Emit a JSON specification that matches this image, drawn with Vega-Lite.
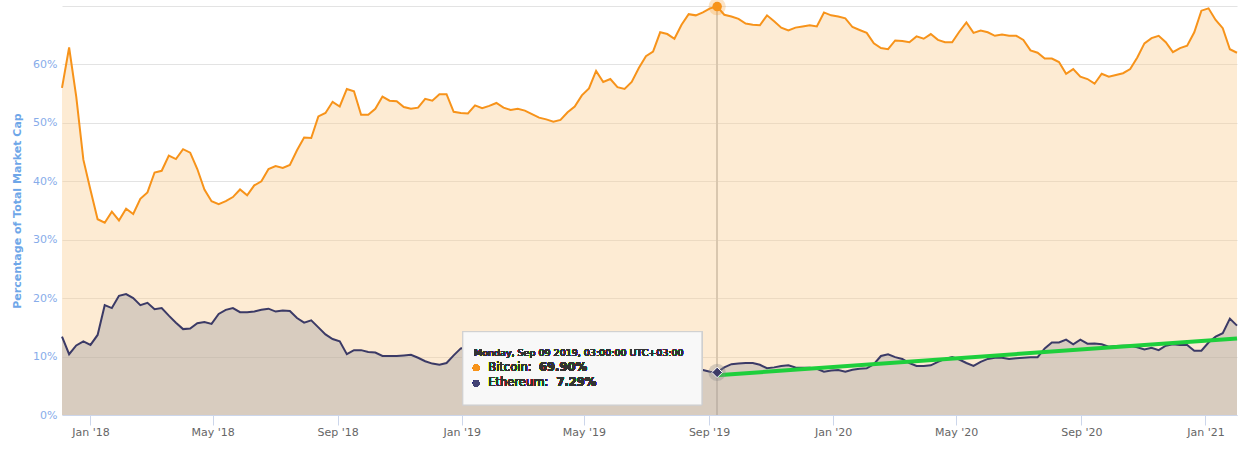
{
  "$schema": "https://vega.github.io/schema/vega-lite/v6.json",
  "width": 1175,
  "height": 409,
  "autosize": "none",
  "padding": {"left": 62, "top": 6, "right": 5, "bottom": 39},
  "background": "white",
  "config": {"font": "DejaVu Sans", "view": {"stroke": null}},
  "datasets": {
    "weekly": [
      {"date": "2017-12-04", "Bitcoin": 56.0, "Ethereum": 13.4},
      {"date": "2017-12-11", "Bitcoin": 62.9, "Ethereum": 10.4},
      {"date": "2017-12-18", "Bitcoin": 54.5, "Ethereum": 11.9},
      {"date": "2017-12-25", "Bitcoin": 43.7, "Ethereum": 12.6},
      {"date": "2018-01-01", "Bitcoin": 38.5, "Ethereum": 12.0},
      {"date": "2018-01-08", "Bitcoin": 33.5, "Ethereum": 13.7},
      {"date": "2018-01-15", "Bitcoin": 32.9, "Ethereum": 18.8},
      {"date": "2018-01-22", "Bitcoin": 34.8, "Ethereum": 18.3},
      {"date": "2018-01-29", "Bitcoin": 33.3, "Ethereum": 20.4},
      {"date": "2018-02-05", "Bitcoin": 35.3, "Ethereum": 20.7},
      {"date": "2018-02-12", "Bitcoin": 34.4, "Ethereum": 20.0},
      {"date": "2018-02-19", "Bitcoin": 37.0, "Ethereum": 18.8},
      {"date": "2018-02-26", "Bitcoin": 38.1, "Ethereum": 19.2},
      {"date": "2018-03-05", "Bitcoin": 41.5, "Ethereum": 18.1},
      {"date": "2018-03-12", "Bitcoin": 41.8, "Ethereum": 18.3},
      {"date": "2018-03-19", "Bitcoin": 44.4, "Ethereum": 17.0},
      {"date": "2018-03-26", "Bitcoin": 43.8, "Ethereum": 15.8},
      {"date": "2018-04-02", "Bitcoin": 45.5, "Ethereum": 14.7},
      {"date": "2018-04-09", "Bitcoin": 44.9, "Ethereum": 14.8},
      {"date": "2018-04-16", "Bitcoin": 42.1, "Ethereum": 15.7},
      {"date": "2018-04-23", "Bitcoin": 38.6, "Ethereum": 15.9},
      {"date": "2018-04-30", "Bitcoin": 36.6, "Ethereum": 15.6},
      {"date": "2018-05-07", "Bitcoin": 36.1, "Ethereum": 17.3},
      {"date": "2018-05-14", "Bitcoin": 36.6, "Ethereum": 18.0},
      {"date": "2018-05-21", "Bitcoin": 37.3, "Ethereum": 18.3},
      {"date": "2018-05-28", "Bitcoin": 38.6, "Ethereum": 17.6},
      {"date": "2018-06-04", "Bitcoin": 37.6, "Ethereum": 17.6},
      {"date": "2018-06-11", "Bitcoin": 39.3, "Ethereum": 17.7},
      {"date": "2018-06-18", "Bitcoin": 40.0, "Ethereum": 18.0},
      {"date": "2018-06-25", "Bitcoin": 42.1, "Ethereum": 18.2},
      {"date": "2018-07-02", "Bitcoin": 42.6, "Ethereum": 17.7},
      {"date": "2018-07-09", "Bitcoin": 42.3, "Ethereum": 17.9},
      {"date": "2018-07-16", "Bitcoin": 42.8, "Ethereum": 17.8},
      {"date": "2018-07-23", "Bitcoin": 45.3, "Ethereum": 16.6},
      {"date": "2018-07-30", "Bitcoin": 47.5, "Ethereum": 15.8},
      {"date": "2018-08-06", "Bitcoin": 47.4, "Ethereum": 16.2},
      {"date": "2018-08-13", "Bitcoin": 51.1, "Ethereum": 15.0},
      {"date": "2018-08-20", "Bitcoin": 51.7, "Ethereum": 13.8},
      {"date": "2018-08-27", "Bitcoin": 53.6, "Ethereum": 13.0},
      {"date": "2018-09-03", "Bitcoin": 52.8, "Ethereum": 12.6},
      {"date": "2018-09-10", "Bitcoin": 55.8, "Ethereum": 10.4},
      {"date": "2018-09-17", "Bitcoin": 55.4, "Ethereum": 11.1},
      {"date": "2018-09-24", "Bitcoin": 51.4, "Ethereum": 11.1},
      {"date": "2018-10-01", "Bitcoin": 51.4, "Ethereum": 10.8},
      {"date": "2018-10-08", "Bitcoin": 52.4, "Ethereum": 10.7},
      {"date": "2018-10-15", "Bitcoin": 54.5, "Ethereum": 10.1},
      {"date": "2018-10-22", "Bitcoin": 53.8, "Ethereum": 10.1},
      {"date": "2018-10-29", "Bitcoin": 53.7, "Ethereum": 10.1},
      {"date": "2018-11-05", "Bitcoin": 52.7, "Ethereum": 10.2},
      {"date": "2018-11-12", "Bitcoin": 52.4, "Ethereum": 10.3},
      {"date": "2018-11-19", "Bitcoin": 52.6, "Ethereum": 9.8},
      {"date": "2018-11-26", "Bitcoin": 54.1, "Ethereum": 9.2},
      {"date": "2018-12-03", "Bitcoin": 53.8, "Ethereum": 8.8},
      {"date": "2018-12-10", "Bitcoin": 54.9, "Ethereum": 8.6},
      {"date": "2018-12-17", "Bitcoin": 54.9, "Ethereum": 8.9},
      {"date": "2018-12-24", "Bitcoin": 51.9, "Ethereum": 10.2},
      {"date": "2018-12-31", "Bitcoin": 51.7, "Ethereum": 11.4},
      {"date": "2019-01-07", "Bitcoin": 51.6, "Ethereum": 11.6},
      {"date": "2019-01-14", "Bitcoin": 53.0, "Ethereum": 11.0},
      {"date": "2019-01-21", "Bitcoin": 52.5, "Ethereum": 10.7},
      {"date": "2019-01-28", "Bitcoin": 52.9, "Ethereum": 10.9},
      {"date": "2019-02-04", "Bitcoin": 53.4, "Ethereum": 11.2},
      {"date": "2019-02-11", "Bitcoin": 52.6, "Ethereum": 10.8},
      {"date": "2019-02-18", "Bitcoin": 52.2, "Ethereum": 10.5},
      {"date": "2019-02-25", "Bitcoin": 52.4, "Ethereum": 10.6},
      {"date": "2019-03-04", "Bitcoin": 52.1, "Ethereum": 10.3},
      {"date": "2019-03-11", "Bitcoin": 51.5, "Ethereum": 10.4},
      {"date": "2019-03-18", "Bitcoin": 50.9, "Ethereum": 10.2},
      {"date": "2019-03-25", "Bitcoin": 50.6, "Ethereum": 9.8},
      {"date": "2019-04-01", "Bitcoin": 50.2, "Ethereum": 10.0},
      {"date": "2019-04-08", "Bitcoin": 50.5, "Ethereum": 10.5},
      {"date": "2019-04-15", "Bitcoin": 51.8, "Ethereum": 9.8},
      {"date": "2019-04-22", "Bitcoin": 52.8, "Ethereum": 9.4},
      {"date": "2019-04-29", "Bitcoin": 54.7, "Ethereum": 9.6},
      {"date": "2019-05-06", "Bitcoin": 55.9, "Ethereum": 10.2},
      {"date": "2019-05-13", "Bitcoin": 58.9, "Ethereum": 10.3},
      {"date": "2019-05-20", "Bitcoin": 57.0, "Ethereum": 10.0},
      {"date": "2019-05-27", "Bitcoin": 57.5, "Ethereum": 9.9},
      {"date": "2019-06-03", "Bitcoin": 56.1, "Ethereum": 9.4},
      {"date": "2019-06-10", "Bitcoin": 55.8, "Ethereum": 9.1},
      {"date": "2019-06-17", "Bitcoin": 57.0, "Ethereum": 8.9},
      {"date": "2019-06-24", "Bitcoin": 59.4, "Ethereum": 8.6},
      {"date": "2019-07-01", "Bitcoin": 61.4, "Ethereum": 8.2},
      {"date": "2019-07-08", "Bitcoin": 62.2, "Ethereum": 8.3},
      {"date": "2019-07-15", "Bitcoin": 65.5, "Ethereum": 8.4},
      {"date": "2019-07-22", "Bitcoin": 65.2, "Ethereum": 7.9},
      {"date": "2019-07-29", "Bitcoin": 64.4, "Ethereum": 7.6},
      {"date": "2019-08-05", "Bitcoin": 66.8, "Ethereum": 7.8},
      {"date": "2019-08-12", "Bitcoin": 68.6, "Ethereum": 7.9},
      {"date": "2019-08-19", "Bitcoin": 68.4, "Ethereum": 7.8},
      {"date": "2019-08-26", "Bitcoin": 68.9, "Ethereum": 7.7},
      {"date": "2019-09-02", "Bitcoin": 69.6, "Ethereum": 7.4},
      {"date": "2019-09-09", "Bitcoin": 69.9, "Ethereum": 7.29},
      {"date": "2019-09-16", "Bitcoin": 68.5, "Ethereum": 8.15},
      {"date": "2019-09-23", "Bitcoin": 68.2, "Ethereum": 8.7},
      {"date": "2019-09-30", "Bitcoin": 67.8, "Ethereum": 8.8},
      {"date": "2019-10-07", "Bitcoin": 67.0, "Ethereum": 8.9},
      {"date": "2019-10-14", "Bitcoin": 66.8, "Ethereum": 8.9},
      {"date": "2019-10-21", "Bitcoin": 66.7, "Ethereum": 8.6},
      {"date": "2019-10-28", "Bitcoin": 68.4, "Ethereum": 8.0},
      {"date": "2019-11-04", "Bitcoin": 67.4, "Ethereum": 8.15},
      {"date": "2019-11-11", "Bitcoin": 66.3, "Ethereum": 8.4},
      {"date": "2019-11-18", "Bitcoin": 65.8, "Ethereum": 8.5},
      {"date": "2019-11-25", "Bitcoin": 66.3, "Ethereum": 8.15},
      {"date": "2019-12-02", "Bitcoin": 66.5, "Ethereum": 8.1},
      {"date": "2019-12-09", "Bitcoin": 66.7, "Ethereum": 8.1},
      {"date": "2019-12-16", "Bitcoin": 66.5, "Ethereum": 7.9},
      {"date": "2019-12-23", "Bitcoin": 68.9, "Ethereum": 7.4},
      {"date": "2019-12-30", "Bitcoin": 68.4, "Ethereum": 7.6},
      {"date": "2020-01-06", "Bitcoin": 68.2, "Ethereum": 7.7},
      {"date": "2020-01-13", "Bitcoin": 67.9, "Ethereum": 7.4},
      {"date": "2020-01-20", "Bitcoin": 66.4, "Ethereum": 7.75},
      {"date": "2020-01-27", "Bitcoin": 65.9, "Ethereum": 7.9},
      {"date": "2020-02-03", "Bitcoin": 65.4, "Ethereum": 8.0},
      {"date": "2020-02-10", "Bitcoin": 63.6, "Ethereum": 8.7},
      {"date": "2020-02-17", "Bitcoin": 62.8, "Ethereum": 10.1},
      {"date": "2020-02-24", "Bitcoin": 62.6, "Ethereum": 10.4},
      {"date": "2020-03-02", "Bitcoin": 64.1, "Ethereum": 9.9},
      {"date": "2020-03-09", "Bitcoin": 64.0, "Ethereum": 9.6},
      {"date": "2020-03-16", "Bitcoin": 63.8, "Ethereum": 8.9},
      {"date": "2020-03-23", "Bitcoin": 64.8, "Ethereum": 8.4},
      {"date": "2020-03-30", "Bitcoin": 64.4, "Ethereum": 8.4},
      {"date": "2020-04-06", "Bitcoin": 65.2, "Ethereum": 8.5},
      {"date": "2020-04-13", "Bitcoin": 64.2, "Ethereum": 9.1},
      {"date": "2020-04-20", "Bitcoin": 63.8, "Ethereum": 9.6},
      {"date": "2020-04-27", "Bitcoin": 63.8, "Ethereum": 9.9},
      {"date": "2020-05-04", "Bitcoin": 65.6, "Ethereum": 9.5},
      {"date": "2020-05-11", "Bitcoin": 67.2, "Ethereum": 8.9},
      {"date": "2020-05-18", "Bitcoin": 65.4, "Ethereum": 8.4},
      {"date": "2020-05-25", "Bitcoin": 65.8, "Ethereum": 9.1},
      {"date": "2020-06-01", "Bitcoin": 65.5, "Ethereum": 9.6},
      {"date": "2020-06-08", "Bitcoin": 64.9, "Ethereum": 9.8},
      {"date": "2020-06-15", "Bitcoin": 65.1, "Ethereum": 9.8},
      {"date": "2020-06-22", "Bitcoin": 64.9, "Ethereum": 9.6},
      {"date": "2020-06-29", "Bitcoin": 64.9, "Ethereum": 9.7},
      {"date": "2020-07-06", "Bitcoin": 64.2, "Ethereum": 9.8},
      {"date": "2020-07-13", "Bitcoin": 62.4, "Ethereum": 9.9},
      {"date": "2020-07-20", "Bitcoin": 62.0, "Ethereum": 9.9},
      {"date": "2020-07-27", "Bitcoin": 61.0, "Ethereum": 11.4},
      {"date": "2020-08-03", "Bitcoin": 61.0, "Ethereum": 12.4},
      {"date": "2020-08-10", "Bitcoin": 60.4, "Ethereum": 12.4},
      {"date": "2020-08-17", "Bitcoin": 58.4, "Ethereum": 12.9},
      {"date": "2020-08-24", "Bitcoin": 59.2, "Ethereum": 12.1},
      {"date": "2020-08-31", "Bitcoin": 57.9, "Ethereum": 12.9},
      {"date": "2020-09-07", "Bitcoin": 57.5, "Ethereum": 12.2},
      {"date": "2020-09-14", "Bitcoin": 56.7, "Ethereum": 12.25},
      {"date": "2020-09-21", "Bitcoin": 58.4, "Ethereum": 12.1},
      {"date": "2020-09-28", "Bitcoin": 57.9, "Ethereum": 11.7},
      {"date": "2020-10-05", "Bitcoin": 58.2, "Ethereum": 11.8},
      {"date": "2020-10-12", "Bitcoin": 58.5, "Ethereum": 11.85},
      {"date": "2020-10-19", "Bitcoin": 59.2, "Ethereum": 11.85},
      {"date": "2020-10-26", "Bitcoin": 61.2, "Ethereum": 11.6},
      {"date": "2020-11-02", "Bitcoin": 63.6, "Ethereum": 11.2},
      {"date": "2020-11-09", "Bitcoin": 64.5, "Ethereum": 11.5},
      {"date": "2020-11-16", "Bitcoin": 64.9, "Ethereum": 11.1},
      {"date": "2020-11-23", "Bitcoin": 63.8, "Ethereum": 11.85},
      {"date": "2020-11-30", "Bitcoin": 62.1, "Ethereum": 12.1},
      {"date": "2020-12-07", "Bitcoin": 62.8, "Ethereum": 12.0},
      {"date": "2020-12-14", "Bitcoin": 63.2, "Ethereum": 12.0},
      {"date": "2020-12-21", "Bitcoin": 65.5, "Ethereum": 11.0},
      {"date": "2020-12-28", "Bitcoin": 69.2, "Ethereum": 11.0},
      {"date": "2021-01-04", "Bitcoin": 69.6, "Ethereum": 12.4},
      {"date": "2021-01-11", "Bitcoin": 67.6, "Ethereum": 13.4},
      {"date": "2021-01-18", "Bitcoin": 66.2, "Ethereum": 14.0},
      {"date": "2021-01-25", "Bitcoin": 62.6, "Ethereum": 16.5},
      {"date": "2021-02-01", "Bitcoin": 62.0, "Ethereum": 15.3}
    ],
    "trend": [
      {"date": "2019-09-09", "share": 6.8},
      {"date": "2021-02-01", "share": 13.1}
    ],
    "hover": [
      {"date": "2019-09-09", "Bitcoin": 69.9, "Ethereum": 7.29}
    ]
  },
  "data": {"name": "weekly"},
  "layer": [
    {
      "mark": {"type": "rule", "color": "#c4c4c4", "strokeWidth": 1},
      "encoding": {
        "x": {"datum": {"year": 2019, "month": 9, "date": 9, "utc": true}, "type": "temporal"}
      }
    },
    {
      "mark": {"type": "area", "color": "#facd91", "opacity": 0.4},
      "encoding": {
        "x": {
          "field": "date",
          "type": "temporal",
          "scale": {
            "type": "utc",
            "domain": [
              {"year": 2017, "month": 12, "date": 4, "utc": true},
              {"year": 2021, "month": 2, "date": 1, "utc": true}
            ]
          },
          "axis": {
            "title": null,
            "values": [
              {"year": 2018, "month": 1, "date": 1, "utc": true},
              {"year": 2018, "month": 5, "date": 1, "utc": true},
              {"year": 2018, "month": 9, "date": 1, "utc": true},
              {"year": 2019, "month": 1, "date": 1, "utc": true},
              {"year": 2019, "month": 5, "date": 1, "utc": true},
              {"year": 2019, "month": 9, "date": 1, "utc": true},
              {"year": 2020, "month": 1, "date": 1, "utc": true},
              {"year": 2020, "month": 5, "date": 1, "utc": true},
              {"year": 2020, "month": 9, "date": 1, "utc": true},
              {"year": 2021, "month": 1, "date": 1, "utc": true}
            ],
            "format": "%b '%y",
            "grid": false,
            "domainColor": "#ccd6eb",
            "tickColor": "#ccd6eb",
            "tickSize": 10,
            "labelColor": "#666666",
            "labelFontSize": 11,
            "labelPadding": 1
          }
        },
        "y": {
          "field": "Bitcoin",
          "type": "quantitative",
          "scale": {"domain": [0, 70], "nice": false},
          "axis": {
            "title": "Percentage of Total Market Cap",
            "values": [0, 10, 20, 30, 40, 50, 60, 70],
            "labelExpr": "datum.value == 70 ? '' : datum.value + '%'",
            "domain": false,
            "ticks": false,
            "labelPadding": 5,
            "labelColor": "#87acea",
            "labelFontSize": 11,
            "titleColor": "#6ea6e8",
            "titleFontSize": 11,
            "titleFontWeight": "bold",
            "titlePadding": 10,
            "gridColor": "#e3e3e3"
          }
        }
      }
    },
    {
      "mark": {"type": "area", "color": "#a09da3", "opacity": 0.4},
      "encoding": {
        "x": {"field": "date", "type": "temporal"},
        "y": {"field": "Ethereum", "type": "quantitative"}
      }
    },
    {
      "mark": {"type": "line", "color": "#f7931a", "strokeWidth": 2},
      "encoding": {
        "x": {"field": "date", "type": "temporal"},
        "y": {"field": "Bitcoin", "type": "quantitative"}
      }
    },
    {
      "mark": {"type": "line", "color": "#3b3a66", "strokeWidth": 2},
      "encoding": {
        "x": {"field": "date", "type": "temporal"},
        "y": {"field": "Ethereum", "type": "quantitative"}
      }
    },
    {
      "data": {"name": "trend"},
      "mark": {"type": "line", "color": "#1ecf3c", "strokeWidth": 4},
      "encoding": {
        "x": {"field": "date", "type": "temporal"},
        "y": {"field": "share", "type": "quantitative"}
      }
    },
    {
      "data": {"name": "hover"},
      "mark": {"type": "point", "shape": "circle", "filled": true, "size": 300, "color": "#f7931a", "opacity": 0.25},
      "encoding": {
        "x": {"field": "date", "type": "temporal"},
        "y": {"field": "Bitcoin", "type": "quantitative"}
      }
    },
    {
      "data": {"name": "hover"},
      "mark": {"type": "point", "shape": "circle", "filled": true, "size": 90, "color": "#f7931a", "opacity": 1},
      "encoding": {
        "x": {"field": "date", "type": "temporal"},
        "y": {"field": "Bitcoin", "type": "quantitative"}
      }
    },
    {
      "data": {"name": "hover"},
      "mark": {"type": "point", "shape": "circle", "filled": true, "size": 300, "color": "#8a8a8a", "opacity": 0.35},
      "encoding": {
        "x": {"field": "date", "type": "temporal"},
        "y": {"field": "Ethereum", "type": "quantitative"}
      }
    },
    {
      "data": {"name": "hover"},
      "mark": {"type": "point", "shape": "diamond", "filled": true, "size": 110, "color": "#3b3a66", "opacity": 1, "stroke": "#ffffff", "strokeWidth": 1},
      "encoding": {
        "x": {"field": "date", "type": "temporal"},
        "y": {"field": "Ethereum", "type": "quantitative"}
      }
    },
    {
      "mark": {"type": "rect", "fill": "#f7f7f7", "fillOpacity": 0.92, "stroke": "#cfcfcf", "strokeWidth": 1},
      "encoding": {
        "x": {"datum": {"year": 2019, "month": 1, "date": 2, "utc": true}, "type": "temporal"},
        "x2": {"datum": {"year": 2019, "month": 8, "date": 25, "utc": true}},
        "y": {"datum": 14.26, "type": "quantitative"},
        "y2": {"datum": 1.71}
      }
    },
    {
      "mark": {"type": "text", "align": "left", "baseline": "middle", "fontSize": 9.5, "fill": "#333333", "strokeWidth": 0, "text": "Monday, Sep 09 2019, 03:00:00 UTC+03:00"},
      "encoding": {
        "x": {"datum": {"year": 2019, "month": 1, "date": 13, "utc": true}, "type": "temporal"},
        "y": {"datum": 10.66, "type": "quantitative"}
      }
    },
    {
      "mark": {"type": "point", "shape": "circle", "filled": true, "size": 40, "color": "#f7931a", "opacity": 1},
      "encoding": {
        "x": {"datum": {"year": 2019, "month": 1, "date": 15, "utc": true}, "type": "temporal"},
        "y": {"datum": 8.1, "type": "quantitative"}
      }
    },
    {
      "mark": {"type": "point", "shape": "circle", "filled": true, "size": 40, "color": "#434375", "opacity": 1},
      "encoding": {
        "x": {"datum": {"year": 2019, "month": 1, "date": 15, "utc": true}, "type": "temporal"},
        "y": {"datum": 5.42, "type": "quantitative"}
      }
    },
    {
      "mark": {"type": "text", "align": "left", "baseline": "middle", "fontSize": 11.5, "fill": "#333333", "strokeWidth": 0, "text": "Bitcoin: "},
      "encoding": {
        "x": {"datum": {"year": 2019, "month": 1, "date": 27, "utc": true}, "type": "temporal"},
        "y": {"datum": 8.1, "type": "quantitative"}
      }
    },
    {
      "mark": {"type": "text", "align": "left", "baseline": "middle", "fontSize": 11.5, "fontWeight": "bold", "fill": "#333333", "strokeWidth": 0, "text": "69.90%"},
      "encoding": {
        "x": {"datum": {"year": 2019, "month": 3, "date": 18, "utc": true}, "type": "temporal"},
        "y": {"datum": 8.1, "type": "quantitative"}
      }
    },
    {
      "mark": {"type": "text", "align": "left", "baseline": "middle", "fontSize": 11.5, "fill": "#333333", "strokeWidth": 0, "text": "Ethereum: "},
      "encoding": {
        "x": {"datum": {"year": 2019, "month": 1, "date": 27, "utc": true}, "type": "temporal"},
        "y": {"datum": 5.42, "type": "quantitative"}
      }
    },
    {
      "mark": {"type": "text", "align": "left", "baseline": "middle", "fontSize": 11.5, "fontWeight": "bold", "fill": "#333333", "strokeWidth": 0, "text": "7.29%"},
      "encoding": {
        "x": {"datum": {"year": 2019, "month": 4, "date": 4, "utc": true}, "type": "temporal"},
        "y": {"datum": 5.42, "type": "quantitative"}
      }
    }
  ]
}
